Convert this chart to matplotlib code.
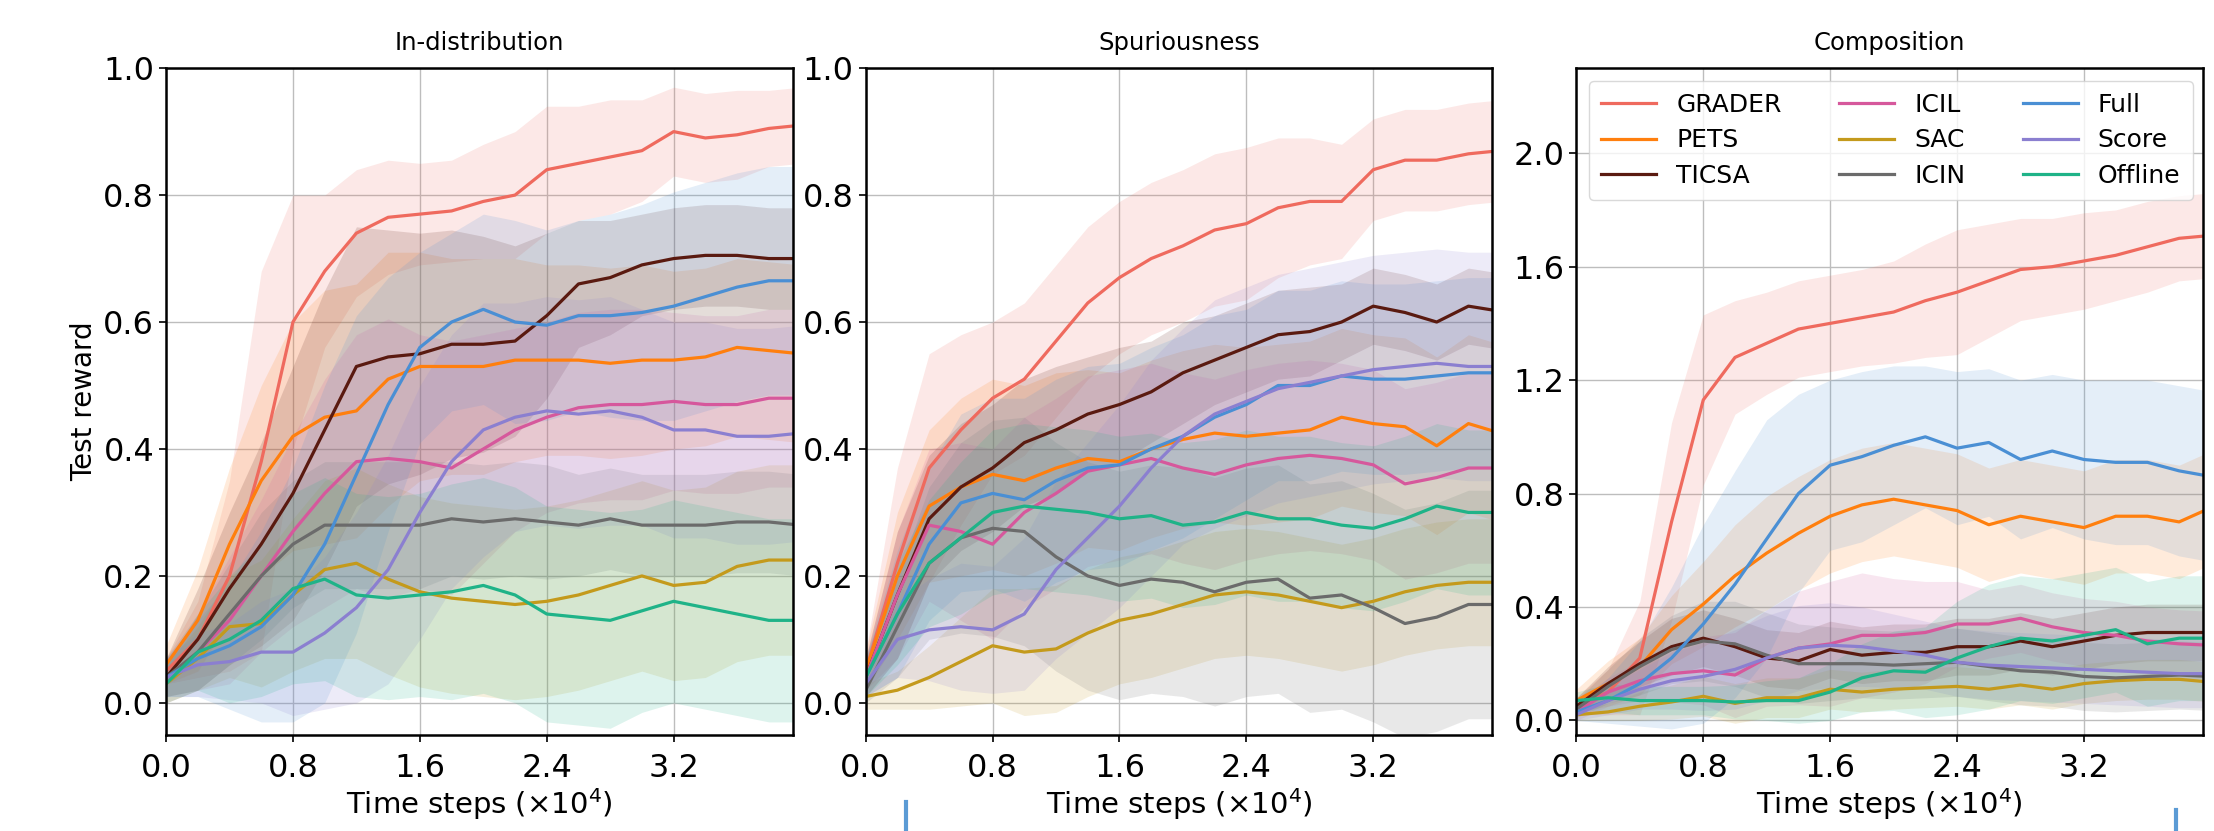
import numpy as np
import matplotlib
matplotlib.use("Agg")
import matplotlib.pyplot as plt
from matplotlib.lines import Line2D

# time steps (x 1e4)
steps = np.arange(21) * 0.2

methods = ["GRADER", "PETS", "TICSA", "ICIL", "SAC", "ICIN", "Full", "Score", "Offline"]
colors = ["#ef6a5e", "#ff7f0e", "#5a1a10", "#d6589c", "#c49a1c", "#6b6b6b", "#4a8fd4", "#8b7fd0", "#1fb388"]

# ---- In-distribution ----
ind_grader = [0.05, 0.10, 0.20, 0.38, 0.60, 0.68, 0.74, 0.765, 0.77, 0.775, 0.79, 0.80, 0.84, 0.85, 0.86, 0.87, 0.90, 0.89, 0.895, 0.905, 0.91]
ind_pets = [0.06, 0.13, 0.25, 0.35, 0.42, 0.45, 0.46, 0.51, 0.53, 0.53, 0.53, 0.54, 0.54, 0.54, 0.535, 0.54, 0.54, 0.545, 0.56, 0.555, 0.55]
ind_ticsa = [0.04, 0.10, 0.18, 0.25, 0.33, 0.43, 0.53, 0.545, 0.55, 0.565, 0.565, 0.57, 0.61, 0.66, 0.67, 0.69, 0.70, 0.705, 0.705, 0.70, 0.70]
ind_icil = [0.03, 0.08, 0.13, 0.20, 0.27, 0.33, 0.38, 0.385, 0.38, 0.37, 0.40, 0.43, 0.45, 0.465, 0.47, 0.47, 0.475, 0.47, 0.47, 0.48, 0.48]
ind_sac = [0.03, 0.07, 0.12, 0.125, 0.17, 0.21, 0.22, 0.195, 0.175, 0.165, 0.16, 0.155, 0.16, 0.17, 0.185, 0.20, 0.185, 0.19, 0.215, 0.225, 0.225]
ind_icin = [0.04, 0.08, 0.14, 0.20, 0.25, 0.28, 0.28, 0.28, 0.28, 0.29, 0.285, 0.29, 0.285, 0.28, 0.29, 0.28, 0.28, 0.28, 0.285, 0.285, 0.28]
ind_full = [0.04, 0.07, 0.09, 0.12, 0.17, 0.25, 0.36, 0.47, 0.56, 0.60, 0.62, 0.60, 0.595, 0.61, 0.61, 0.615, 0.625, 0.64, 0.655, 0.665, 0.665]
ind_score = [0.04, 0.06, 0.065, 0.08, 0.08, 0.11, 0.15, 0.21, 0.30, 0.38, 0.43, 0.45, 0.46, 0.455, 0.46, 0.45, 0.43, 0.43, 0.42, 0.42, 0.425]
ind_offline = [0.03, 0.08, 0.10, 0.13, 0.18, 0.195, 0.17, 0.165, 0.17, 0.175, 0.185, 0.17, 0.14, 0.135, 0.13, 0.145, 0.16, 0.15, 0.14, 0.13, 0.13]

ind_grader_sd = [0.02, 0.06, 0.15, 0.30, 0.20, 0.12, 0.10, 0.09, 0.08, 0.08, 0.09, 0.10, 0.10, 0.09, 0.09, 0.08, 0.07, 0.07, 0.07, 0.06, 0.06]
ind_pets_sd = [0.03, 0.08, 0.12, 0.15, 0.18, 0.20, 0.20, 0.20, 0.18, 0.17, 0.17, 0.16, 0.15, 0.15, 0.15, 0.15, 0.14, 0.14, 0.14, 0.14, 0.14]
ind_ticsa_sd = [0.03, 0.08, 0.12, 0.16, 0.20, 0.22, 0.22, 0.20, 0.19, 0.18, 0.17, 0.15, 0.13, 0.10, 0.09, 0.08, 0.08, 0.08, 0.08, 0.08, 0.08]
ind_icil_sd = [0.03, 0.06, 0.10, 0.12, 0.15, 0.18, 0.20, 0.22, 0.20, 0.20, 0.18, 0.16, 0.15, 0.15, 0.15, 0.15, 0.14, 0.14, 0.14, 0.14, 0.14]
ind_sac_sd = [0.03, 0.05, 0.08, 0.10, 0.12, 0.14, 0.15, 0.15, 0.15, 0.15, 0.15, 0.15, 0.15, 0.15, 0.15, 0.15, 0.15, 0.15, 0.15, 0.15, 0.15]
ind_icin_sd = [0.03, 0.06, 0.08, 0.10, 0.10, 0.10, 0.10, 0.10, 0.10, 0.09, 0.09, 0.09, 0.09, 0.08, 0.08, 0.08, 0.08, 0.08, 0.08, 0.08, 0.08]
ind_full_sd = [0.03, 0.06, 0.10, 0.15, 0.20, 0.25, 0.25, 0.20, 0.15, 0.14, 0.15, 0.16, 0.15, 0.15, 0.16, 0.17, 0.18, 0.18, 0.18, 0.18, 0.18]
ind_score_sd = [0.03, 0.05, 0.06, 0.08, 0.10, 0.12, 0.15, 0.18, 0.20, 0.20, 0.20, 0.18, 0.18, 0.18, 0.18, 0.17, 0.17, 0.17, 0.17, 0.17, 0.17]
ind_offline_sd = [0.03, 0.06, 0.10, 0.12, 0.15, 0.16, 0.16, 0.16, 0.16, 0.17, 0.17, 0.17, 0.17, 0.17, 0.17, 0.16, 0.16, 0.16, 0.16, 0.16, 0.16]

# ---- Spuriousness ----
spu_grader = [0.05, 0.22, 0.37, 0.43, 0.48, 0.51, 0.57, 0.63, 0.67, 0.70, 0.72, 0.745, 0.755, 0.78, 0.79, 0.79, 0.84, 0.855, 0.855, 0.865, 0.87]
spu_pets = [0.05, 0.20, 0.31, 0.34, 0.36, 0.35, 0.37, 0.385, 0.38, 0.40, 0.415, 0.425, 0.42, 0.425, 0.43, 0.45, 0.44, 0.435, 0.405, 0.44, 0.425]
spu_ticsa = [0.04, 0.17, 0.29, 0.34, 0.37, 0.41, 0.43, 0.455, 0.47, 0.49, 0.52, 0.54, 0.56, 0.58, 0.585, 0.60, 0.625, 0.615, 0.60, 0.625, 0.617]
spu_icil = [0.04, 0.17, 0.28, 0.27, 0.25, 0.30, 0.33, 0.365, 0.375, 0.385, 0.37, 0.36, 0.375, 0.385, 0.39, 0.385, 0.375, 0.345, 0.355, 0.37, 0.37]
spu_sac = [0.01, 0.02, 0.04, 0.065, 0.09, 0.08, 0.085, 0.11, 0.13, 0.14, 0.155, 0.17, 0.175, 0.17, 0.16, 0.15, 0.16, 0.175, 0.185, 0.19, 0.19]
spu_icin = [0.02, 0.12, 0.22, 0.26, 0.275, 0.27, 0.23, 0.20, 0.185, 0.195, 0.19, 0.175, 0.19, 0.195, 0.165, 0.17, 0.15, 0.125, 0.135, 0.155, 0.155]
spu_full = [0.04, 0.14, 0.25, 0.315, 0.33, 0.32, 0.35, 0.37, 0.375, 0.40, 0.42, 0.45, 0.47, 0.50, 0.50, 0.515, 0.51, 0.51, 0.515, 0.52, 0.52]
spu_score = [0.03, 0.10, 0.115, 0.12, 0.115, 0.14, 0.21, 0.26, 0.31, 0.37, 0.42, 0.455, 0.475, 0.495, 0.505, 0.515, 0.525, 0.53, 0.535, 0.53, 0.53]
spu_offline = [0.04, 0.14, 0.22, 0.26, 0.30, 0.31, 0.305, 0.30, 0.29, 0.295, 0.28, 0.285, 0.30, 0.29, 0.29, 0.28, 0.275, 0.29, 0.31, 0.30, 0.30]

spu_grader_sd = [0.03, 0.15, 0.18, 0.15, 0.12, 0.12, 0.12, 0.12, 0.12, 0.12, 0.12, 0.12, 0.12, 0.11, 0.10, 0.09, 0.08, 0.08, 0.08, 0.08, 0.08]
spu_pets_sd = [0.03, 0.10, 0.12, 0.14, 0.15, 0.15, 0.15, 0.14, 0.14, 0.14, 0.14, 0.14, 0.14, 0.14, 0.14, 0.14, 0.14, 0.14, 0.14, 0.14, 0.14]
spu_ticsa_sd = [0.03, 0.10, 0.10, 0.10, 0.10, 0.10, 0.10, 0.09, 0.09, 0.08, 0.08, 0.07, 0.07, 0.07, 0.07, 0.06, 0.06, 0.06, 0.06, 0.06, 0.06]
spu_icil_sd = [0.03, 0.10, 0.12, 0.14, 0.15, 0.15, 0.15, 0.15, 0.15, 0.15, 0.15, 0.15, 0.15, 0.15, 0.15, 0.15, 0.15, 0.15, 0.15, 0.15, 0.15]
spu_sac_sd = [0.02, 0.03, 0.05, 0.07, 0.09, 0.10, 0.10, 0.10, 0.10, 0.10, 0.10, 0.10, 0.10, 0.10, 0.10, 0.10, 0.10, 0.10, 0.10, 0.10, 0.10]
spu_icin_sd = [0.02, 0.08, 0.12, 0.15, 0.17, 0.18, 0.18, 0.18, 0.18, 0.18, 0.18, 0.18, 0.18, 0.18, 0.18, 0.18, 0.18, 0.18, 0.18, 0.18, 0.18]
spu_full_sd = [0.03, 0.10, 0.12, 0.14, 0.15, 0.16, 0.16, 0.16, 0.16, 0.16, 0.16, 0.16, 0.15, 0.15, 0.15, 0.15, 0.15, 0.15, 0.15, 0.15, 0.15]
spu_score_sd = [0.02, 0.06, 0.08, 0.10, 0.10, 0.12, 0.14, 0.15, 0.16, 0.17, 0.17, 0.18, 0.18, 0.18, 0.18, 0.18, 0.18, 0.18, 0.18, 0.18, 0.18]
spu_offline_sd = [0.03, 0.08, 0.10, 0.12, 0.13, 0.13, 0.13, 0.13, 0.13, 0.13, 0.13, 0.13, 0.13, 0.13, 0.13, 0.13, 0.13, 0.13, 0.13, 0.13, 0.13]

# ---- Composition ----
comp_grader = [0.05, 0.10, 0.22, 0.70, 1.13, 1.28, 1.33, 1.38, 1.40, 1.42, 1.44, 1.48, 1.51, 1.55, 1.59, 1.60, 1.62, 1.64, 1.67, 1.70, 1.71]
comp_pets = [0.07, 0.13, 0.19, 0.32, 0.41, 0.51, 0.59, 0.66, 0.72, 0.76, 0.78, 0.76, 0.74, 0.69, 0.72, 0.70, 0.68, 0.72, 0.72, 0.70, 0.75]
comp_ticsa = [0.05, 0.13, 0.20, 0.26, 0.29, 0.26, 0.22, 0.21, 0.25, 0.23, 0.24, 0.24, 0.26, 0.26, 0.28, 0.26, 0.28, 0.30, 0.31, 0.31, 0.31]
comp_icil = [0.03, 0.10, 0.14, 0.165, 0.175, 0.16, 0.22, 0.255, 0.27, 0.30, 0.30, 0.31, 0.34, 0.34, 0.36, 0.33, 0.31, 0.30, 0.28, 0.27, 0.265]
comp_sac = [0.02, 0.03, 0.05, 0.065, 0.085, 0.06, 0.08, 0.08, 0.11, 0.10, 0.11, 0.115, 0.12, 0.11, 0.125, 0.11, 0.13, 0.14, 0.145, 0.145, 0.135]
comp_icin = [0.04, 0.12, 0.19, 0.25, 0.28, 0.27, 0.23, 0.20, 0.20, 0.20, 0.195, 0.20, 0.205, 0.19, 0.175, 0.17, 0.155, 0.15, 0.155, 0.16, 0.155]
comp_full = [0.03, 0.07, 0.13, 0.22, 0.34, 0.48, 0.64, 0.80, 0.90, 0.93, 0.97, 1.00, 0.96, 0.98, 0.92, 0.95, 0.92, 0.91, 0.91, 0.88, 0.86]
comp_score = [0.02, 0.07, 0.11, 0.14, 0.155, 0.18, 0.22, 0.255, 0.265, 0.26, 0.245, 0.23, 0.205, 0.195, 0.19, 0.185, 0.18, 0.175, 0.17, 0.165, 0.165]
comp_offline = [0.07, 0.08, 0.07, 0.07, 0.07, 0.065, 0.07, 0.07, 0.10, 0.15, 0.175, 0.17, 0.22, 0.26, 0.29, 0.28, 0.30, 0.32, 0.27, 0.29, 0.29]

comp_grader_sd = [0.03, 0.08, 0.20, 0.35, 0.30, 0.20, 0.18, 0.17, 0.17, 0.17, 0.18, 0.20, 0.22, 0.20, 0.18, 0.17, 0.17, 0.16, 0.16, 0.15, 0.15]
comp_pets_sd = [0.04, 0.08, 0.10, 0.12, 0.15, 0.18, 0.20, 0.20, 0.20, 0.20, 0.20, 0.20, 0.20, 0.20, 0.20, 0.20, 0.20, 0.20, 0.20, 0.20, 0.20]
comp_ticsa_sd = [0.03, 0.06, 0.08, 0.10, 0.10, 0.10, 0.10, 0.10, 0.10, 0.10, 0.10, 0.10, 0.10, 0.10, 0.10, 0.10, 0.10, 0.10, 0.10, 0.10, 0.10]
comp_icil_sd = [0.03, 0.05, 0.07, 0.10, 0.12, 0.15, 0.17, 0.20, 0.22, 0.22, 0.20, 0.18, 0.15, 0.12, 0.12, 0.12, 0.12, 0.12, 0.12, 0.12, 0.12]
comp_sac_sd = [0.02, 0.03, 0.05, 0.06, 0.07, 0.07, 0.07, 0.07, 0.07, 0.07, 0.07, 0.07, 0.07, 0.07, 0.07, 0.07, 0.07, 0.07, 0.07, 0.07, 0.07]
comp_icin_sd = [0.03, 0.06, 0.10, 0.12, 0.14, 0.15, 0.15, 0.14, 0.13, 0.12, 0.12, 0.12, 0.12, 0.12, 0.12, 0.12, 0.12, 0.12, 0.12, 0.12, 0.12]
comp_full_sd = [0.03, 0.08, 0.15, 0.25, 0.35, 0.40, 0.42, 0.35, 0.30, 0.30, 0.28, 0.25, 0.27, 0.26, 0.28, 0.27, 0.28, 0.29, 0.29, 0.30, 0.30]
comp_score_sd = [0.02, 0.05, 0.07, 0.10, 0.12, 0.14, 0.15, 0.15, 0.15, 0.14, 0.13, 0.12, 0.12, 0.12, 0.12, 0.12, 0.12, 0.12, 0.12, 0.12, 0.12]
comp_offline_sd = [0.03, 0.05, 0.05, 0.05, 0.05, 0.06, 0.07, 0.08, 0.10, 0.12, 0.14, 0.16, 0.20, 0.22, 0.22, 0.22, 0.22, 0.22, 0.22, 0.22, 0.22]

panels = [
    ("In-distribution",
     [ind_grader, ind_pets, ind_ticsa, ind_icil, ind_sac, ind_icin, ind_full, ind_score, ind_offline],
     [ind_grader_sd, ind_pets_sd, ind_ticsa_sd, ind_icil_sd, ind_sac_sd, ind_icin_sd, ind_full_sd, ind_score_sd, ind_offline_sd],
     (-0.05, 1.0), [0.0, 0.2, 0.4, 0.6, 0.8, 1.0]),
    ("Spuriousness",
     [spu_grader, spu_pets, spu_ticsa, spu_icil, spu_sac, spu_icin, spu_full, spu_score, spu_offline],
     [spu_grader_sd, spu_pets_sd, spu_ticsa_sd, spu_icil_sd, spu_sac_sd, spu_icin_sd, spu_full_sd, spu_score_sd, spu_offline_sd],
     (-0.05, 1.0), [0.0, 0.2, 0.4, 0.6, 0.8, 1.0]),
    ("Composition",
     [comp_grader, comp_pets, comp_ticsa, comp_icil, comp_sac, comp_icin, comp_full, comp_score, comp_offline],
     [comp_grader_sd, comp_pets_sd, comp_ticsa_sd, comp_icil_sd, comp_sac_sd, comp_icin_sd, comp_full_sd, comp_score_sd, comp_offline_sd],
     (-0.05, 2.3), [0.0, 0.4, 0.8, 1.2, 1.6, 2.0]),
]

plt.rcParams['font.family'] = ['DejaVu Sans']

fig = plt.figure(figsize=(22.14, 8.31), dpi=100)
lefts = [0.075, 0.391, 0.712]
width = 0.283

for i, (title, means, sds, ylim, yt) in enumerate(panels):
    ax = fig.add_axes([lefts[i], 0.116, width, 0.802])
    for name, c, m, s in zip(methods, colors, means, sds):
        m = np.array(m)
        s = np.array(s)
        ax.fill_between(steps, m - s, m + s, color=c, alpha=0.15, lw=0)
    for name, c, m in zip(methods, colors, means):
        ax.plot(steps, m, color=c, lw=2.3, label=name)
    ax.set_xlim(0, 3.95)
    ax.set_ylim(*ylim)
    ax.set_xticks([0.0, 0.8, 1.6, 2.4, 3.2])
    ax.set_xticklabels(["0.0", "0.8", "1.6", "2.4", "3.2"])
    ax.set_yticks(yt)
    ax.set_yticklabels(["%.1f" % v for v in yt])
    ax.grid(True, color="#bdbdbd", lw=1.0)
    ax.set_axisbelow(True)
    ax.tick_params(labelsize=23, length=5, width=1.2)
    ax.tick_params(axis="x", pad=8)
    for sp in ax.spines.values():
        sp.set_linewidth(1.8)
    ax.set_title(title, fontsize=17.5, pad=13)
    ax.set_xlabel(r"Time steps ($\times 10^4$)", fontsize=21, labelpad=2)
    if i == 0:
        ax.set_ylabel("Test reward", fontsize=20, labelpad=4)
    if i == 2:
        ax.legend(loc="upper left", ncol=3, fontsize=18, handlelength=2.2,
                  columnspacing=2.3, borderpad=0.5, labelspacing=0.45,
                  framealpha=0.8, edgecolor="#d0d0d0")

# stray blue marks at the bottom edge of the source image
fig.add_artist(Line2D([0.409, 0.409], [0.0, 0.035], color="#5b9bd5", lw=3))
fig.add_artist(Line2D([0.983, 0.983], [0.0, 0.025], color="#5b9bd5", lw=3))

fig.savefig("out.png", dpi=100)
